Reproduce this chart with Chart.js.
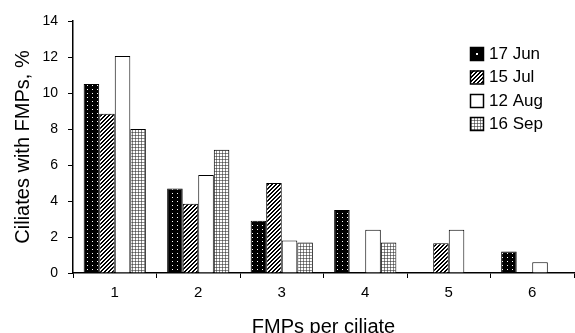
<!DOCTYPE html>
<html>
<head>
<meta charset="utf-8">
<script src="https://cdn.jsdelivr.net/npm/chart.js@4/dist/chart.umd.min.js"></script>
<style>
  html, body { margin: 0; padding: 0; background: #fff; }
  #wrap { width: 575px; height: 333px; }
</style>
</head>
<body>
<div id="wrap"><canvas id="myChart" width="575" height="333"></canvas></div>
<script>
var categorias = ['1', '2', '3', '4', '5', '6'];
var series = ['17 Jun', '15 Jul', '12 Aug', '16 Sep'];
var jun = [10.5, 4.7, 2.9, 3.5, null, 1.2];
var jul = [8.85, 3.85, 5.0, null, 1.65, null];
var aug = [12.05, 5.45, 1.8, 2.4, 2.4, 0.6];
var sep = [8.0, 6.85, 1.7, 1.7, null, null];
var yTicks = [0, 2, 4, 6, 8, 10, 12, 14];

const fuente = '"Liberation Sans", Arial, sans-serif';

function patron(w, h, dibujar) {
	const c = document.createElement('canvas');
	c.width = w;
	c.height = h;
	const g = c.getContext('2d');
	dibujar(g);
	return document.getElementById('myChart').getContext('2d').createPattern(c, 'repeat');
}

const pJun = patron(5, 4, g => {
	g.fillStyle = '#000';
	g.fillRect(0, 0, 5, 4);
	g.fillStyle = '#fff';
	g.fillRect(2, 1, 1, 1);
});
const pJul = patron(4, 4, g => {
	g.fillStyle = '#fff';
	g.fillRect(0, 0, 4, 4);
	g.fillStyle = '#000';
	for (let i = 0; i < 4; i++) {
		g.fillRect(3 - i, i, 1, 1);
		g.fillRect((4 - i) % 4, i, 1, 1);
	}
});
const pAug = '#ffffff';
const pSep = patron(3, 3, g => {
	g.fillStyle = '#fff';
	g.fillRect(0, 0, 3, 3);
	g.fillStyle = '#8a8a8a';
	g.fillRect(0, 0, 3, 1);
	g.fillRect(0, 0, 1, 3);
	g.fillStyle = '#555';
	g.fillRect(0, 0, 1, 1);
});
const rellenos = [pJun, pJul, pAug, pSep];

const leyenda = {
	id: 'leyenda',
	afterDraw(chart) {
		const ctx = chart.ctx;
		const ys = [47, 70.5, 94, 117];
		ctx.save();
		ctx.font = '17px ' + fuente;
		ctx.textBaseline = 'middle';
		ctx.textAlign = 'left';
		for (let i = 0; i < series.length; i++) {
			ctx.fillStyle = i === 0 ? '#000' : rellenos[i];
			ctx.fillRect(470, ys[i], 13, 13);
			if (i === 0) {
				ctx.fillStyle = '#fff';
				ctx.fillRect(476, ys[i] + 6, 2, 2);
			}
			ctx.strokeStyle = '#000';
			ctx.lineWidth = 1.5;
			ctx.strokeRect(470.5, ys[i] + 0.5, 13, 13);
			ctx.fillStyle = '#000';
			ctx.fillText(series[i], 489, ys[i] + 7);
		}
		ctx.restore();
	}
};

let myChart = new Chart(document.getElementById('myChart'), {
	type: 'bar',
	data: {
		labels: categorias,
		datasets: [jun, jul, aug, sep].map((d, i) => ({
			label: series[i],
			data: d,
			backgroundColor: rellenos[i],
			borderColor: '#000',
			borderWidth: 1,
			borderSkipped: 'bottom',
			categoryPercentage: 0.745,
			barPercentage: 1
		}))
	},
	options: {
		responsive: false,
		animation: false,
		layout: { padding: { top: 21, right: 1, left: 0, bottom: 0 } },
		plugins: {
			legend: { display: false },
			tooltip: { enabled: false }
		},
		scales: {
			x: {
				afterFit: s => { s.height = 60; },
				grid: { display: true, drawOnChartArea: false, drawTicks: true, tickLength: 5, color: '#000', offset: true },
				border: { display: true, color: '#000', width: 1.5 },
				ticks: { color: '#000', font: { family: fuente, size: 15 }, padding: 6 },
				title: { display: true, text: 'FMPs per ciliate', color: '#000', font: { family: fuente, size: 20, lineHeight: 1 }, padding: { top: 0, bottom: -4 } }
			},
			y: {
				min: 0,
				max: 14,
				afterFit: s => { s.width = 73; },
				afterBuildTicks: s => { s.ticks = yTicks.map(v => ({ value: v })); },
				grid: { display: true, drawOnChartArea: false, drawTicks: true, tickLength: 5, color: '#000' },
				border: { display: true, color: '#000', width: 1.5 },
				ticks: { color: '#000', font: { family: fuente, size: 14 }, padding: 10 },
				title: { display: true, text: 'Ciliates with FMPs, %', color: '#000', font: { family: fuente, size: 20, lineHeight: 1.2 }, padding: { top: 11, bottom: 0 } }
			}
		}
	},
	plugins: [leyenda]
});
</script>
</body>
</html>
